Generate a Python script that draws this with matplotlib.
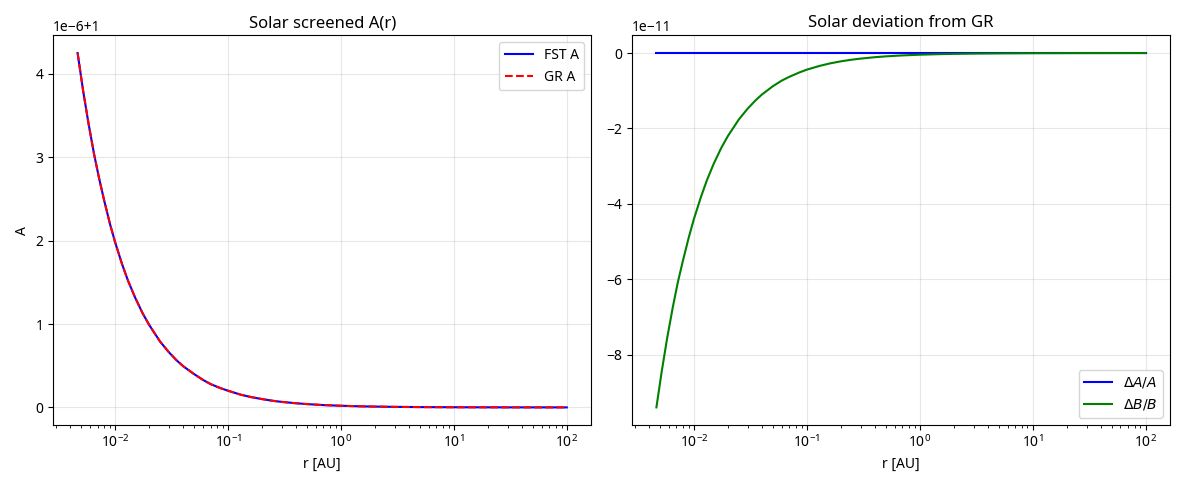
import matplotlib
matplotlib.use("Agg")
import matplotlib.pyplot as plt
import numpy as np

plt.rcParams['font.family'] = ['Noto Sans', 'DejaVu Sans']

r_au = [0.00465, 0.0052, 0.0058, 0.0065, 0.0072, 0.008, 0.009, 0.01, 0.0115, 0.013, 0.015, 0.0175, 0.02, 0.025, 0.03, 0.035, 0.04, 0.05, 0.06, 0.07, 0.085, 0.1, 0.13, 0.16, 0.2, 0.25, 0.3, 0.4, 0.5, 0.7, 1, 1.5, 2, 3, 5, 10, 30, 100]
a_minus1_e6 = [4.25, 3.80, 3.41, 3.04, 2.75, 2.48, 2.20, 1.98, 1.72, 1.52, 1.32, 1.13, 0.99, 0.79, 0.66, 0.565, 0.495, 0.40, 0.33, 0.28, 0.233, 0.20, 0.152, 0.124, 0.10, 0.079, 0.066, 0.05, 0.04, 0.028, 0.02, 0.013, 0.01, 0.0066, 0.004, 0.002, 0.00066, 0.0002]
dA_e11 = [0.0] * len(r_au)
dB_e11 = [-9.4, -8.42, -7.55, -6.74, -6.08, -5.5, -4.89, -4.4, -3.83, -3.38, -2.93, -2.51, -2.2, -1.76, -1.47, -1.26, -1.1, -0.88, -0.73, -0.63, -0.52, -0.44, -0.34, -0.275, -0.22, -0.176, -0.147, -0.11, -0.088, -0.063, -0.044, -0.029, -0.022, -0.0147, -0.009, -0.0044, -0.0015, -0.0004]

r = np.array(r_au)
A = 1 + np.array(a_minus1_e6) * 1e-6

fig, (ax1, ax2) = plt.subplots(1, 2, figsize=(11.85, 4.87), dpi=100)
ax1.plot(r, A, color='blue', label='FST A')
ax1.plot(r, A, 'r--', label='GR A')
ax1.set_xscale('log')
ax1.set_xlabel('r [AU]')
ax1.set_ylabel('A')
ax1.set_title('Solar screened A(r)')
ax1.grid(True, alpha=0.3)
ax1.legend()

ax2.plot(r, np.array(dA_e11) * 1e-11, color='blue', label=r'$\Delta A/A$')
ax2.plot(r, np.array(dB_e11) * 1e-11, color='green', label=r'$\Delta B/B$')
ax2.set_xscale('log')
ax2.set_xlabel('r [AU]')
ax2.set_title('Solar deviation from GR')
ax2.grid(True, alpha=0.3)
ax2.legend(loc='lower right')

fig.tight_layout()
fig.savefig('out.png')
